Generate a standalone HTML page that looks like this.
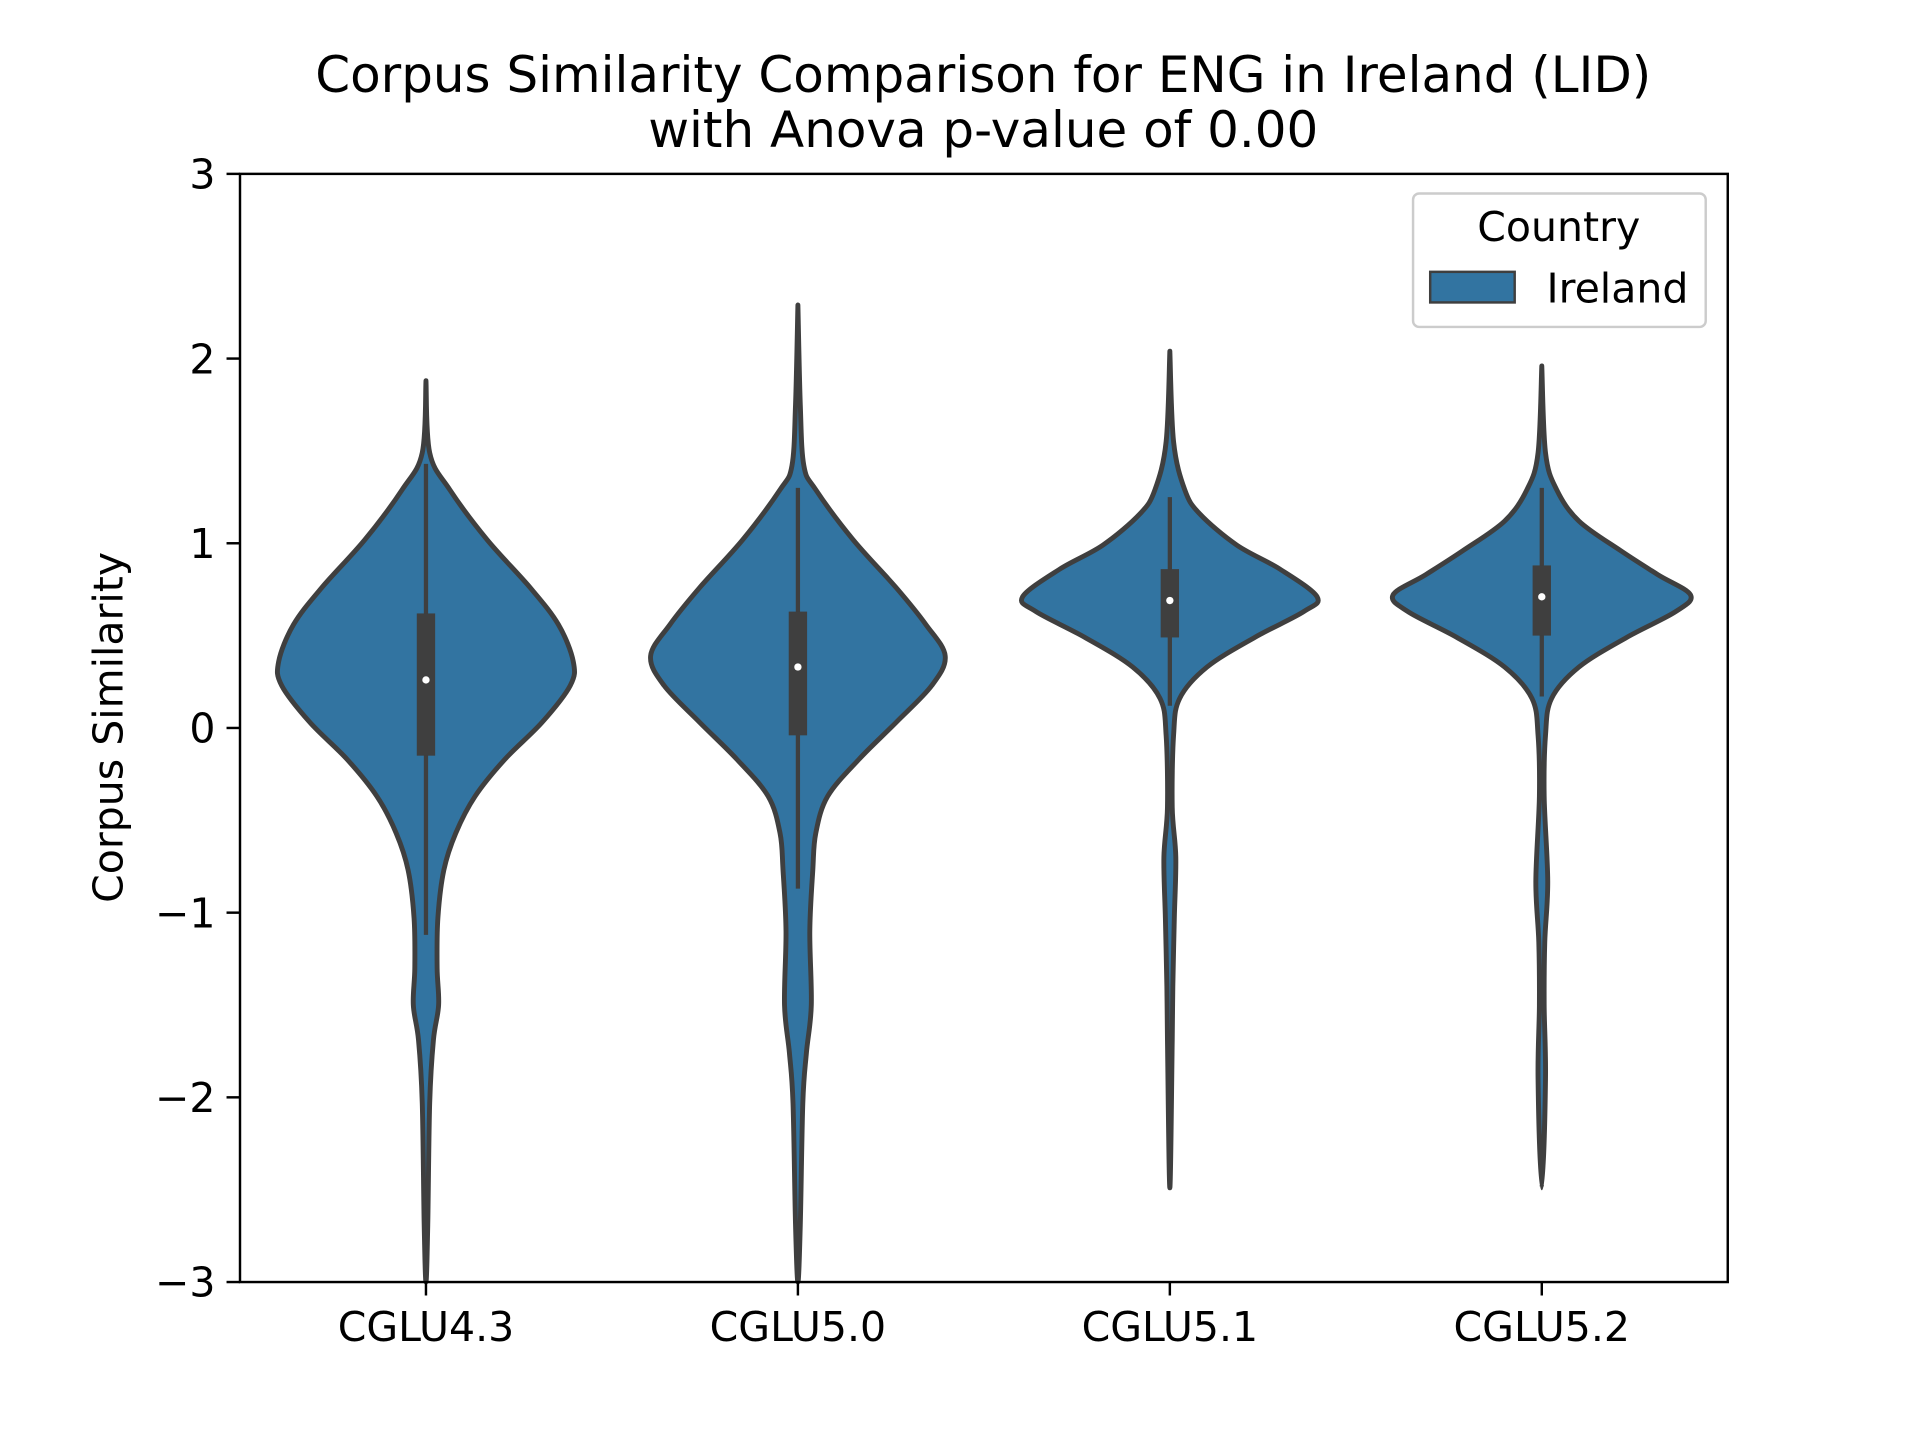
<!DOCTYPE html>
<html><head><meta charset="utf-8"><style>
html,body{margin:0;padding:0;background:#fff;}
svg{display:block;font-family:"DejaVu Sans","Liberation Sans",sans-serif;}
</style></head><body>
<svg id="chart" width="1920" height="1440" viewBox="0 0 1568 1176" preserveAspectRatio="none" xmlns="http://www.w3.org/2000/svg">
<rect width="1568" height="1176" fill="#fff"/>
<text x="803" y="75" font-size="40.8" text-anchor="middle">Corpus Similarity Comparison for ENG in Ireland (LID)</text>
<text x="803" y="120" font-size="40.8" text-anchor="middle">with Anova p-value of 0.00</text>
<text transform="translate(100,594) rotate(-90)" font-size="33.5" text-anchor="middle">Corpus Similarity</text>
<g id="violins"></g>
<g id="axes"></g>
<g>
<rect x="1154" y="158" width="239" height="109" rx="5" fill="#fff" fill-opacity="0.8" stroke="#cccccc" stroke-width="2"/>
<text x="1273" y="197" font-size="33.5" text-anchor="middle">Country</text>
<rect x="1168" y="222" width="69" height="25" fill="#3274a1" stroke="#3f3f3f" stroke-width="2"/>
<text x="1263" y="247" font-size="33.5">Ireland</text>
</g>
</svg>
<script>
const categories = ["CGLU4.3","CGLU5.0","CGLU5.1","CGLU5.2"];
const yTicks = [-3,-2,-1,0,1,2,3];
const yTickLabels = ["\u22123","\u22122","\u22121","0","1","2","3"];
// density profiles: values (y) and normalized half-widths
const profileY43 = [1.88,1.49,1.29,1.02,0.76,0.56,0.36,0.23,0.03,-0.17,-0.37,-0.57,-0.77,-1.03,-1.30,-1.50,-1.69,-2.03,-2.69,-3.0];
const profileW43 = [0,0.025,0.16,0.41,0.70,0.89,0.99,0.97,0.78,0.53,0.33,0.2,0.12,0.08,0.075,0.085,0.05,0.025,0.012,0];
const profileY50 = [2.29,1.75,1.42,1.29,1.02,0.76,0.56,0.39,0.23,0.03,-0.17,-0.37,-0.57,-0.77,-1.10,-1.50,-1.76,-2.03,-2.69,-3.0];
const profileW50 = [0,0.016,0.04,0.12,0.37,0.66,0.86,0.99,0.9,0.66,0.41,0.2,0.12,0.1,0.08,0.09,0.057,0.033,0.016,0];
const profileY51 = [2.04,1.55,1.29,1.16,0.99,0.86,0.71,0.63,0.49,0.33,0.16,-0.04,-0.43,-0.70,-1.03,-1.40,-1.69,-2.49];
const profileW51 = [0,0.025,0.1,0.2,0.45,0.74,0.99,0.9,0.57,0.25,0.066,0.025,0.016,0.04,0.03,0.02,0.016,0];
const profileY52 = [1.96,1.49,1.29,1.12,0.96,0.83,0.72,0.63,0.49,0.33,0.16,-0.04,-0.37,-0.83,-1.16,-1.5,-1.9,-2.49];
const profileW52 = [0,0.025,0.1,0.25,0.53,0.78,1.0,0.9,0.57,0.25,0.066,0.025,0.016,0.04,0.02,0.016,0.025,0];
const q1Values = [-0.15,-0.04,0.49,0.50];
const q3Values = [0.62,0.63,0.86,0.88];
const medianValues = [0.26,0.33,0.69,0.71];
const whiskerLow = [-1.12,-0.87,0.12,0.17];
const whiskerHigh = [1.43,1.30,1.25,1.30];

const profilesY = [profileY43, profileY50, profileY51, profileY52];
const profilesW = [profileW43, profileW50, profileW51, profileW52];

const NS = "http://www.w3.org/2000/svg";
const L = 196, R = 1411, T = 142, B = 1047;
const yMin = -3, yMax = 3;
function yScale(v){ return B - (v - yMin) / (yMax - yMin) * (B - T); }
const band = (R - L) / categories.length;
function xScale(i){ return L + band * (i + 0.5); }
const maxHalf = band * 0.4;

function mk(tag, attrs){ const e = document.createElementNS(NS, tag); for (const k in attrs) e.setAttribute(k, attrs[k]); return e; }
function smooth(pts){
  let d = "M" + pts[0][0] + "," + pts[0][1];
  for (let i = 0; i < pts.length - 1; i++){
    const p0 = pts[Math.max(i-1,0)], p1 = pts[i], p2 = pts[i+1], p3 = pts[Math.min(i+2,pts.length-1)];
    const c1x = p1[0] + (p2[0]-p0[0])/6, c1y = p1[1] + (p2[1]-p0[1])/6;
    const c2x = p2[0] - (p3[0]-p1[0])/6, c2y = p2[1] - (p3[1]-p1[1])/6;
    d += " C" + c1x + "," + c1y + " " + c2x + "," + c2y + " " + p2[0] + "," + p2[1];
  }
  return d;
}

const gv = document.getElementById("violins");
categories.forEach((c, i) => {
  const cx = xScale(i);
  const ys = profilesY[i], ws = profilesW[i];
  const right = ys.map((v, k) => [cx + ws[k] * maxHalf, yScale(v)]);
  const left = ys.map((v, k) => [cx - ws[k] * maxHalf, yScale(v)]).reverse();
  const pts = right.concat(left.slice(1));
  const body = mk("path", {d: smooth(pts) + " Z", fill: "#3274a1", stroke: "#3f3f3f", "stroke-width": 4, "stroke-linejoin": "round", "stroke-linecap": "round"});
  
  
  gv.appendChild(body);
  const wh = mk("line", {x1: cx, x2: cx, y1: yScale(whiskerLow[i]), y2: yScale(whiskerHigh[i]), stroke: "#3f3f3f", "stroke-width": 3.5});
  
  
  gv.appendChild(wh);
  const box = mk("rect", {x: cx - 7.5, width: 15, y: yScale(q3Values[i]), height: yScale(q1Values[i]) - yScale(q3Values[i]), fill: "#3f3f3f"});
  
  
  gv.appendChild(box);
  const md = mk("circle", {cx: cx, cy: yScale(medianValues[i]), r: 3, fill: "#fff"});
  
  
  gv.appendChild(md);
});

const ga = document.getElementById("axes");
const frame = mk("rect", {x: L, y: T, width: R - L, height: B - T, fill: "none", stroke: "#000", "stroke-width": 2});


ga.appendChild(frame);
yTicks.forEach((t, k) => {
  const y = yScale(t);
  const tk = mk("line", {x1: L - 11, x2: L, y1: y, y2: y, stroke: "#000", "stroke-width": 2});
  
  
  ga.appendChild(tk);
  const lb = mk("text", {x: L - 20, y: y + 12, "font-size": 33.5, "text-anchor": "end"});
  lb.textContent = yTickLabels[k];
  
  
  ga.appendChild(lb);
});
categories.forEach((c, i) => {
  const x = xScale(i);
  const tk = mk("line", {x1: x, x2: x, y1: B, y2: B + 11, stroke: "#000", "stroke-width": 2});
  
  
  ga.appendChild(tk);
  const lb = mk("text", {x: x, y: B + 48, "font-size": 33.5, "text-anchor": "middle"});
  lb.textContent = c;
  
  
  ga.appendChild(lb);
});
</script>
</body></html>
